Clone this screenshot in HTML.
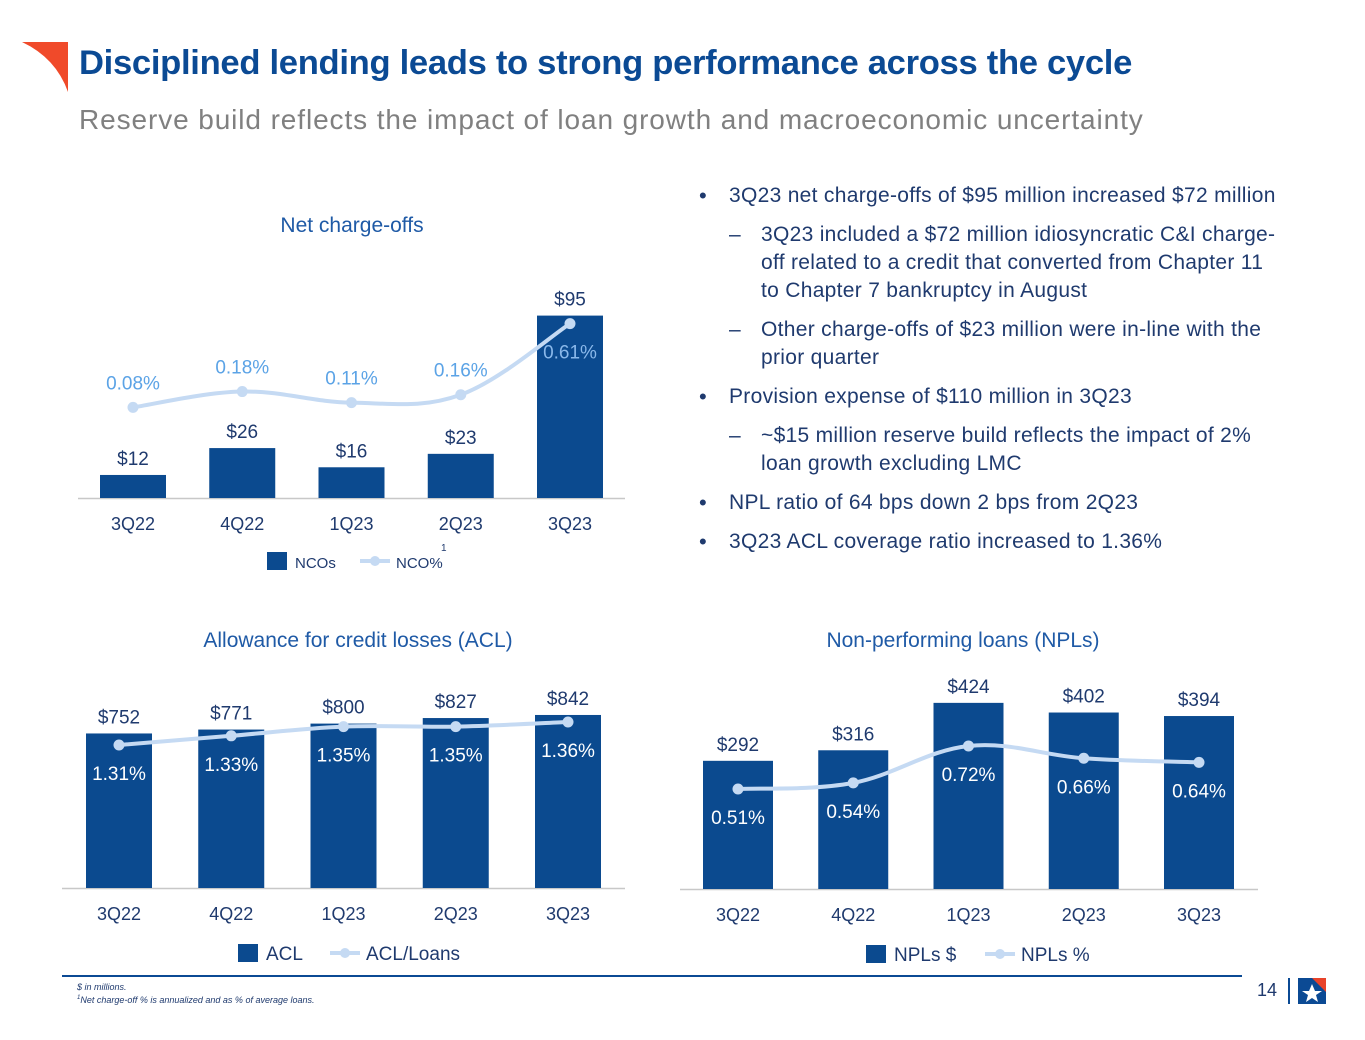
<!DOCTYPE html>
<html><head><meta charset="utf-8">
<style>
body{margin:0;width:1365px;height:1040px;background:#fff;font-family:"Liberation Sans",sans-serif;position:relative;overflow:hidden}
.abs{position:absolute}
#title{left:79px;top:44px;font-size:34.6px;font-weight:bold;color:#0b4a94;white-space:nowrap;letter-spacing:-0.3px}
#sub{left:79px;top:104px;font-size:28px;color:#808080;white-space:nowrap;letter-spacing:0.9px}
#bul{left:700px;top:182px;font-size:21px;letter-spacing:0.3px;color:#1f3a6e;line-height:28px;white-space:nowrap}
#bul .b{position:relative;padding-left:29px;margin-bottom:11px}
#bul .b:before{content:"•";position:absolute;left:-1px;top:0;font-size:22px}
#bul .d{position:relative;padding-left:61px;margin-bottom:11px}
#bul .d:before{content:"–";position:absolute;left:29px;top:0}
.ct{font-size:21px;fill:#1f5aa6;text-anchor:middle}
</style></head><body>
<svg class="abs" style="left:18px;top:40px" width="55" height="55"><path d="M4 2 L50 2 L50 52 Q38 18 4 2Z" fill="#f04a2a"/></svg>
<div id="title" class="abs">Disciplined lending leads to strong performance across the cycle</div>
<div id="sub" class="abs">Reserve build reflects the impact of loan growth and macroeconomic uncertainty</div>
<div id="bul" class="abs">
<div class="b">3Q23 net charge-offs of $95 million increased $72 million</div>
<div class="d">3Q23 included a $72 million idiosyncratic C&amp;I charge-<br>off related to a credit that converted from Chapter 11<br>to Chapter 7 bankruptcy in August</div>
<div class="d">Other charge-offs of $23 million were in-line with the<br>prior quarter</div>
<div class="b">Provision expense of $110 million in 3Q23</div>
<div class="d">~$15 million reserve build reflects the impact of 2%<br>loan growth excluding LMC</div>
<div class="b">NPL ratio of 64 bps down 2 bps from 2Q23</div>
<div class="b">3Q23 ACL coverage ratio increased to 1.36%</div>
</div>
<svg id="chart" class="abs" style="left:0;top:0" width="1365" height="1040"></svg>
<div class="abs" style="left:62px;top:975px;width:1180px;border-top:2px solid #0b4a94"></div>
<div class="abs" style="left:77px;top:982px;font-size:9px;font-style:italic;color:#1f3a6e;line-height:11px">$ in millions.<br><sup style="font-size:6px">1</sup>Net charge-off % is annualized and as % of average loans.</div>
<div class="abs" style="left:1257px;top:980px;font-size:18px;color:#1f3a6e">14</div>
<div class="abs" style="left:1288px;top:978px;width:2px;height:26px;background:#0b4a94"></div>
<svg class="abs" style="left:1298px;top:978px" width="28" height="26"><rect x="0" y="0" width="28" height="26" fill="#0b4a94"/><path d="M14 0 L28 0 L28 14Z" fill="#e8432a"/><path d="M14 6 L17 13 L24 13 L18 17 L20 24 L14 20 L8 24 L10 17 L4 13 L11 13Z" fill="#fff"/></svg>
<script>
const cats=["3Q22","4Q22","1Q23","2Q23","3Q23"];
const ncoVals=[12,26,16,23,95];
const ncoPct=[0.08,0.18,0.11,0.16,0.61];
const aclVals=[752,771,800,827,842];
const aclPct=[1.31,1.33,1.35,1.35,1.36];
const nplVals=[292,316,424,402,394];
const nplPct=[0.51,0.54,0.72,0.66,0.64];
const ncoLabels=["$12","$26","$16","$23","$95"];
const aclLabels=["$752","$771","$800","$827","$842"];
const nplLabels=["$292","$316","$424","$402","$394"];
const ncoPctLabels=["0.08%","0.18%","0.11%","0.16%","0.61%"];
const aclPctLabels=["1.31%","1.33%","1.35%","1.35%","1.36%"];
const nplPctLabels=["0.51%","0.54%","0.72%","0.66%","0.64%"];

const svg=document.getElementById('chart');
const NS="http://www.w3.org/2000/svg";
function mk(tag,attrs,txt){const e=document.createElementNS(NS,tag);for(const k in attrs)e.setAttribute(k,attrs[k]);if(txt!==undefined)e.textContent=txt;svg.appendChild(e);return e;}
function smooth(pts){let d="M"+pts[0][0]+" "+pts[0][1];for(let i=0;i<pts.length-1;i++){const p0=pts[i-1]||pts[i],p1=pts[i],p2=pts[i+1],p3=pts[i+2]||p2;const t=0.18;d+=" C"+(p1[0]+(p2[0]-p0[0])*t)+" "+(p1[1]+(p2[1]-p0[1])*t)+" "+(p2[0]-(p3[0]-p1[0])*t)+" "+(p2[1]-(p3[1]-p1[1])*t)+" "+p2[0]+" "+p2[1];}return d;}

function chart(cfg){
  const xs=i=>cfg.x0+i*cfg.dx;
  const yb=v=>cfg.base-v*cfg.bs;
  const yl=v=>cfg.lz-v*cfg.ls;
  const t=mk('text',{x:cfg.tx,y:cfg.ty,class:'ct',fill:'#1f5aa6'},cfg.title);
  
  
  const ax=mk('line',{x1:cfg.ax0,x2:cfg.ax1,y1:cfg.base+0.5,y2:cfg.base+0.5,stroke:'#c8c8c8','stroke-width':1.5});
  
  
  cfg.vals.forEach((v,i)=>{
    const r=mk('rect',{x:xs(i)-cfg.bw/2,y:yb(v),width:cfg.bw,height:cfg.base-yb(v),fill:'#0b4a8f'});
    
    
    const l=mk('text',{x:xs(i),y:yb(v)-10,'font-size':19,fill:'#1f3a6e','text-anchor':'middle'},cfg.vlabels[i]);
    
    
    const c=mk('text',{x:xs(i),y:cfg.base+32,'font-size':18,fill:'#1f3a6e','text-anchor':'middle'},cats[i]);
    
    
  });
  const pts=cfg.pcts.map((p,i)=>[xs(i),yl(p)]);
  const path=mk('path',{d:smooth(pts),fill:'none',stroke:'#c5daf3','stroke-width':4});
  
  
  pts.forEach((p,i)=>{
    const c=mk('circle',{cx:p[0],cy:p[1],r:5.5,fill:'#c5daf3'});
    
    
    const inside=cfg.pctInside(i);
    const l=mk('text',{x:p[0],y:inside?p[1]+35:p[1]-18,'font-size':19,fill:inside?(cfg.id==='nco'?'#8ab8ea':'#fff'):'#5ba3e6','text-anchor':'middle'},cfg.plabels[i]);
    
    
  });
  const lg=cfg.leg;
  const s=mk('rect',{x:lg.x,y:lg.y-9,width:20,height:18,fill:'#0b4a8f'});
  
  
  mk('text',{x:lg.x+28,y:lg.y+7,'font-size':lg.fs,fill:'#1f3a6e'},lg.a);
  const ll=mk('line',{x1:lg.x2,x2:lg.x2+30,y1:lg.y,y2:lg.y,stroke:'#c5daf3','stroke-width':4});
  
  
  mk('circle',{cx:lg.x2+15,cy:lg.y,r:5,fill:'#c5daf3'});
  mk('text',{x:lg.x2+36,y:lg.y+7,'font-size':lg.fs,fill:'#1f3a6e'},lg.b);
}
chart({id:'nco',title:'Net charge-offs',tx:352,ty:232,x0:133,dx:109.25,bw:66,base:498,bs:1.92,lz:420,ls:158,ax0:78,ax1:625,
  vals:ncoVals,pcts:ncoPct,vlabels:ncoLabels,plabels:ncoPctLabels,pctInside:i=>i===4,
  leg:{x:267,y:561,x2:360,a:'NCOs',b:'NCO%',fs:15}});
mk('text',{x:441,y:551,'font-size':10,fill:'#1f3a6e'},'1');
chart({id:'acl',title:'Allowance for credit losses (ACL)',tx:358,ty:647,x0:119,dx:112.25,bw:66,base:888,bs:0.2055,lz:745+1.31*460,ls:460,ax0:62,ax1:625,
  vals:aclVals,pcts:aclPct,vlabels:aclLabels,plabels:aclPctLabels,pctInside:i=>true,
  leg:{x:238,y:953,x2:330,a:'ACL',b:'ACL/Loans',fs:19}});
chart({id:'npl',title:'Non-performing loans (NPLs)',tx:963,ty:647,x0:738,dx:115.25,bw:70,base:889,bs:0.439,lz:789+0.51*205,ls:205,ax0:680,ax1:1258,
  vals:nplVals,pcts:nplPct,vlabels:nplLabels,plabels:nplPctLabels,pctInside:i=>true,
  leg:{x:866,y:954,x2:985,a:'NPLs $',b:'NPLs %',fs:19}});
</script>
</body></html>
